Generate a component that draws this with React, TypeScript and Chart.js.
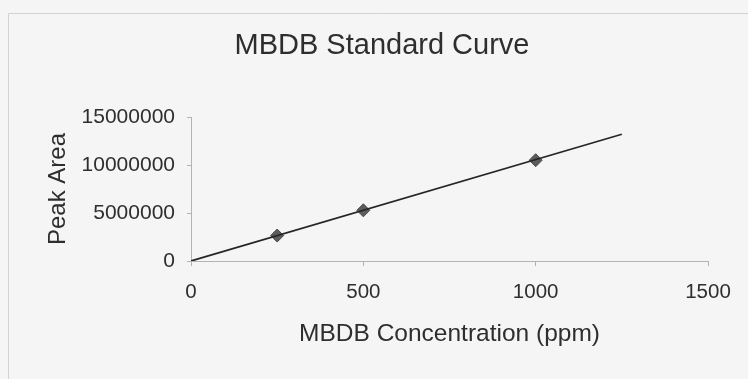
import React, { useEffect, useRef } from "react";
import { Chart, registerables } from "chart.js";

Chart.register(...registerables);

const chartTitle = "MBDB Standard Curve";
const xTitle = "MBDB Concentration (ppm)";
const yTitle = "Peak Area";
const concentration = [250, 500, 1000];
const peakArea = [2650000, 5280000, 10500000];
const trendX = [0, 1250];
const trendY = [0, 13200000];
const xTicks = [0, 500, 1000, 1500];
const yTicks = [0, 5000000, 10000000, 15000000];

const FONT = "'Liberation Sans', Arial, sans-serif";
const TEXT = "#2e2e2e";
const AXIS = "#b3b3b3";

const backgroundPlugin = {
  id: "paperBg",
  beforeDraw(chart: any) {
    const { ctx, width, height } = chart;
    ctx.save();
    ctx.fillStyle = "#f5f5f5";
    ctx.fillRect(0, 0, width, height);
    ctx.strokeStyle = "#d2d2d2";
    ctx.lineWidth = 1;
    ctx.beginPath();
    ctx.moveTo(8.5, height);
    ctx.lineTo(8.5, 13.5);
    ctx.lineTo(width, 13.5);
    ctx.stroke();
    ctx.restore();
  },
};

export default function App() {
  const ref = useRef<HTMLCanvasElement | null>(null);

  useEffect(() => {
    if (!ref.current) return;
    const chart = new Chart(ref.current, {
      type: "scatter",
      data: {
        datasets: [
          {
            label: "Trend",
            data: trendX.map((x, i) => ({ x, y: trendY[i] })),
            showLine: true,
            borderColor: "#262626",
            borderWidth: 1.7,
            pointRadius: 0,
            fill: false,
          },
          {
            label: "Peak Area",
            data: concentration.map((x, i) => ({ x, y: peakArea[i] })),
            showLine: false,
            pointStyle: "rectRot",
            pointRadius: 6.5,
            backgroundColor: "#5c5c5c",
            borderColor: "#4a4a4a",
            borderWidth: 1,
          },
        ],
      },
      options: {
        animation: false,
        responsive: false,
        devicePixelRatio: 1,
        layout: { padding: { left: 56, right: 40, top: 10, bottom: 0 } },
        plugins: {
          legend: { display: false },
          tooltip: { enabled: false },
          title: {
            display: true,
            text: chartTitle,
            color: TEXT,
            font: { family: FONT, size: 29, weight: "normal", lineHeight: 1.2 },
            padding: { top: 18.6, bottom: 53.6 },
          },
        },
        scales: {
          x: {
            type: "linear",
            min: 0,
            max: 1500,
            afterBuildTicks: (s: any) => {
              s.ticks = xTicks.map((v) => ({ value: v }));
            },
            afterFit: (s: any) => {
              s.height = 118;
            },
            ticks: {
              color: TEXT,
              font: { family: FONT, size: 20.5, lineHeight: 1.2 },
              padding: 13.7,
              maxRotation: 0,
              callback: (v: any) => String(v),
            },
            grid: {
              display: true,
              drawOnChartArea: false,
              drawTicks: true,
              tickLength: 5,
              color: AXIS,
            },
            border: { display: true, color: AXIS, width: 1 },
            title: {
              display: true,
              text: xTitle,
              color: TEXT,
              font: { family: FONT, size: 24.5, lineHeight: 1.2 },
              padding: { top: 0, bottom: 29.6 },
            },
          },
          y: {
            type: "linear",
            min: 0,
            max: 15000000,
            afterBuildTicks: (s: any) => {
              s.ticks = yTicks.map((v) => ({ value: v }));
            },
            afterFit: (s: any) => {
              s.width = 135;
            },
            ticks: {
              color: TEXT,
              font: { family: FONT, size: 21, lineHeight: 1.2 },
              padding: 12,
              callback: (v: any) => String(v),
            },
            grid: {
              display: true,
              drawOnChartArea: false,
              drawTicks: true,
              tickLength: 4,
              color: AXIS,
            },
            border: { display: true, color: AXIS, width: 1 },
            title: {
              display: true,
              text: yTitle,
              color: TEXT,
              font: { family: FONT, size: 24, lineHeight: 1.2 },
              padding: { top: -12.4, bottom: 0 },
            },
          },
        },
      },
      plugins: [backgroundPlugin],
    });
    return () => chart.destroy();
  }, []);

  return (
    <div
      style={{
        position: "fixed",
        left: 0,
        top: 0,
        width: 748,
        height: 379,
        overflow: "hidden",
        background: "#f5f5f5",
      }}
    >
      <canvas ref={ref} width={748} height={379} style={{ width: 748, height: 379, display: "block" }} />
    </div>
  );
}
